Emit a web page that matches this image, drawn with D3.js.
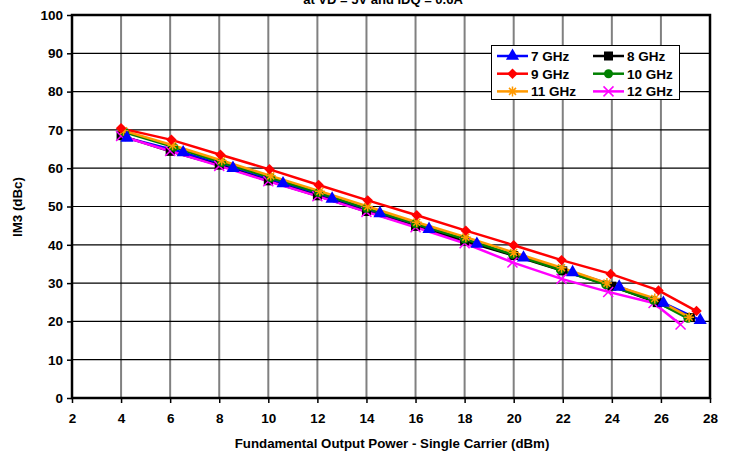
<html>
<head>
<script src="https://cdn.jsdelivr.net/npm/d3@7"></script>
<style>
  body { margin: 0; background: #fff; font-family: Arial, "Liberation Sans", sans-serif; }
  text { font-family: Arial, "Liberation Sans", sans-serif; font-weight: bold; }
</style>
</head>
<body>
<svg id="chart"></svg>
<script>
// tick values
let xTicks = [2, 4, 6, 8, 10, 12, 14, 16, 18, 20, 22, 24, 26, 28];
let yTicks = [0, 10, 20, 30, 40, 50, 60, 70, 80, 90, 100];

// series
let names = ["7 GHz", "8 GHz", "9 GHz", "10 GHz", "11 GHz", "12 GHz"];

let x7 = [4.24, 6.53, 8.56, 10.6, 12.6, 14.55, 16.55, 18.5, 20.4, 22.4, 24.3, 26.1, 27.6];
let y7 = [67.9, 64.1, 60.0, 56.0, 52.0, 48.2, 44.1, 40.2, 36.6, 32.8, 29.0, 24.8, 20.3];

let x8 = [4.0, 6.0, 8.0, 10.0, 12.0, 14.0, 16.0, 18.0, 20.0, 22.0, 24.0, 25.85, 27.2];
let y8 = [68.5, 64.4, 60.8, 56.7, 52.8, 48.7, 44.8, 41.0, 37.2, 33.2, 29.2, 24.9, 21.0];

let x9 = [4.0, 6.05, 8.05, 10.05, 12.05, 14.05, 16.05, 18.05, 20.0, 21.95, 23.95, 25.9, 27.45];
let y9 = [70.4, 67.4, 63.5, 59.7, 55.6, 51.6, 47.7, 43.7, 39.9, 36.0, 32.4, 28.1, 22.7];

let x10 = [4.15, 6.15, 8.1, 10.1, 12.05, 14.0, 16.0, 18.0, 19.95, 21.9, 23.75, 25.7, 27.1];
let y10 = [69.4, 65.5, 61.5, 57.5, 53.6, 49.5, 45.5, 41.5, 37.5, 33.5, 29.6, 25.5, 20.8];

let x11 = [4.1, 6.1, 8.1, 10.1, 12.1, 14.05, 16.05, 18.05, 20.0, 21.95, 23.8, 25.75, 27.15];
let y11 = [69.8, 66.0, 62.0, 58.0, 54.0, 50.0, 45.9, 42.0, 38.0, 34.0, 30.0, 26.0, 21.1];

let x12 = [4.0, 6.0, 8.0, 10.0, 12.0, 14.0, 16.0, 18.0, 19.95, 21.95, 23.85, 25.7, 26.8];
let y12 = [68.4, 64.5, 60.6, 56.6, 52.7, 48.6, 44.6, 40.4, 35.4, 31.1, 27.7, 24.8, 19.2];

let colors = ["#0000ff", "#000000", "#ff0000", "#008000", "#ff9900", "#ff00ff"];
let markers = ["triangle", "square", "diamond", "circle", "star", "cross"];
// drawing order of lines and of markers
let lineOrder = [0, 1, 5, 3, 4, 2];
let markerOrder = [1, 5, 3, 4, 2, 0];

let width = 734, height = 455;
let margin = { top: 15, right: 24, bottom: 57, left: 72 };

let svg = d3.select("#chart").attr("width", width).attr("height", height);

let xScale = d3.scaleLinear().domain([2, 28]).range([margin.left, width - margin.right]);
let yScale = d3.scaleLinear().domain([0, 100]).range([height - margin.bottom, margin.top]);

// title (cut off at the top edge, as in the picture)
svg.append("text")
  .attr("x", 383).attr("y", 4)
  .attr("text-anchor", "middle")
  .style("font-size", "13px")
  .text("at VD = 5V and IDQ = 0.6A");

// grid
svg.append("g").selectAll("line").data(xTicks.slice(1, -1)).enter().append("line")
  .attr("x1", d => xScale(d)).attr("x2", d => xScale(d))
  .attr("y1", yScale(0)).attr("y2", yScale(100))
  .attr("stroke", "#808080").attr("stroke-width", 2);

svg.append("g").selectAll("line").data(yTicks.slice(1, -1)).enter().append("line")
  .attr("x1", xScale(2)).attr("x2", xScale(28))
  .attr("y1", d => yScale(d)).attr("y2", d => yScale(d))
  .attr("stroke", "#000").attr("stroke-width", 1.2);

// axes
let axisY = d3.axisLeft(yScale).tickValues(yTicks).tickSize(5).tickPadding(4);
let gy = svg.append("g").attr("transform", `translate(${margin.left},0)`).call(axisY);
gy.select(".domain").remove();
gy.selectAll("line").attr("stroke-width", 1.5);
gy.selectAll("text").style("font-size", "13.5px").style("font-weight", "bold").attr("font-family", "Arial");

let axisX = d3.axisBottom(xScale).tickValues(xTicks).tickSize(5).tickPadding(10);
let gx = svg.append("g").attr("transform", `translate(0,${yScale(0)})`).call(axisX);
gx.select(".domain").remove();
gx.selectAll("line").attr("stroke-width", 1.5);
gx.selectAll("text").style("font-size", "13.5px").style("font-weight", "bold").attr("font-family", "Arial");

// plot border
svg.append("rect")
  .attr("x", xScale(2)).attr("y", yScale(100))
  .attr("width", xScale(28) - xScale(2)).attr("height", yScale(0) - yScale(100))
  .attr("fill", "none").attr("stroke", "#000").attr("stroke-width", 2.5);

// axis titles
svg.append("text")
  .attr("x", 392).attr("y", 448)
  .attr("text-anchor", "middle")
  .style("font-size", "13.3px")
  .text("Fundamental Output Power - Single Carrier (dBm)");

svg.append("text")
  .attr("transform", "translate(22,207) rotate(-90)")
  .attr("text-anchor", "middle")
  .style("font-size", "13.3px")
  .text("IM3 (dBc)");

function drawMarker(g, type, color, cx, cy) {
  if (type === "triangle") {
    g.append("path").attr("d", d3.symbol(d3.symbolTriangle, 75)())
      .attr("transform", `translate(${cx},${cy})`).attr("fill", color);
  } else if (type === "square") {
    g.append("rect").attr("x", cx - 4.5).attr("y", cy - 4.5).attr("width", 9).attr("height", 9).attr("fill", color);
  } else if (type === "diamond") {
    g.append("path").attr("d", d3.symbol(d3.symbolSquare, 55)())
      .attr("transform", `translate(${cx},${cy}) rotate(45)`).attr("fill", color);
  } else if (type === "circle") {
    g.append("circle").attr("cx", cx).attr("cy", cy).attr("r", 4.5).attr("fill", color);
  } else if (type === "star") {
    let s = 5;
    let p = `M${cx - s},${cy}L${cx + s},${cy}M${cx},${cy - s}L${cx},${cy + s}M${cx - s * 0.7},${cy - s * 0.7}L${cx + s * 0.7},${cy + s * 0.7}M${cx - s * 0.7},${cy + s * 0.7}L${cx + s * 0.7},${cy - s * 0.7}`;
    g.append("path").attr("d", p).attr("stroke", color).attr("stroke-width", 1.5).attr("fill", "none");
  } else if (type === "cross") {
    let s = 5;
    let p = `M${cx - s},${cy - s}L${cx + s},${cy + s}M${cx - s},${cy + s}L${cx + s},${cy - s}`;
    g.append("path").attr("d", p).attr("stroke", color).attr("stroke-width", 1.5).attr("fill", "none");
  }
}

let allX = [x7, x8, x9, x10, x11, x12];
let allY = [y7, y8, y9, y10, y11, y12];

let line = d3.line().x(d => xScale(d[0])).y(d => yScale(d[1]));

lineOrder.forEach(i => {
  let pts = allX[i].map((v, j) => [v, allY[i][j]]);
  svg.append("path").datum(pts).attr("d", line)
    .attr("fill", "none").attr("stroke", colors[i]).attr("stroke-width", 2.5);
});
markerOrder.forEach(i => {
  let g = svg.append("g");
  allX[i].forEach((v, j) => drawMarker(g, markers[i], colors[i], xScale(v), yScale(allY[i][j])));
});

// legend
let legend = svg.append("g");
legend.append("rect")
  .attr("x", 491.5).attr("y", 45.5).attr("width", 188).attr("height", 54)
  .attr("fill", "#fff").attr("stroke", "#000").attr("stroke-width", 1);

names.forEach((n, i) => {
  let col = i % 2, row = Math.floor(i / 2);
  let lx = col === 0 ? 497 : 593;
  let ly = 56 + row * 17.7;
  legend.append("line")
    .attr("x1", lx).attr("x2", lx + 31).attr("y1", ly).attr("y2", ly)
    .attr("stroke", colors[i]).attr("stroke-width", 2.5);
  drawMarker(legend, markers[i], colors[i], lx + 15.5, ly);
  legend.append("text")
    .attr("x", lx + 34).attr("y", ly + 5)
    .style("font-size", "13.5px")
    .text(n);
});
</script>
</body>
</html>
